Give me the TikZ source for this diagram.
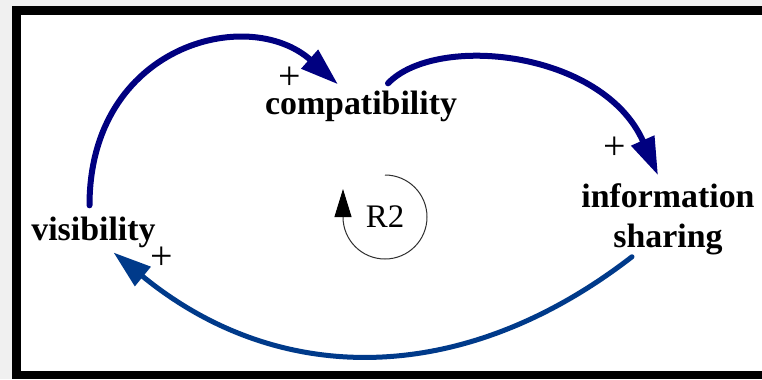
\documentclass[tikz,border=0pt]{standalone}
\usepackage{fontspec}
\setmainfont{Liberation Serif}
\usetikzlibrary{arrows.meta,positioning}
\definecolor{linknavy}{HTML}{000080}
\definecolor{linkblue}{HTML}{003A8A}
\definecolor{framegray}{HTML}{F0F0F0}
\definecolor{loopgray}{HTML}{303030}
\tikzset{varbox/.style={font=\fontsize{34}{40}\selectfont\bfseries,align=center,inner sep=11pt}, polarity/.style={font=\fontsize{40}{40}\selectfont,inner sep=0pt}, loopmark/.style={font=\fontsize{33}{33}\selectfont,inner sep=0pt}, linkarrow/.style={line width=6bp,line cap=round,linknavy,-{Triangle[length=38bp,width=24bp]}}, backarrow/.style={linkarrow,line width=5bp,linkblue}, looparc/.style={line width=1bp,loopgray,-{Triangle[length=28bp,width=17bp,black]}}}
\begin{document}
\begin{tikzpicture}[x=1bp,y=-1bp]
\useasboundingbox (0,0) rectangle (762,379);
\fill[framegray] (0,0) rectangle (762,379);
\fill[black] (12,6) rectangle (762,379);
\fill[white] (21,15) rectangle (762,371);
\node[varbox,anchor=base] (comp) at (361,114) {compatibility};
\node[varbox] (info) at (668,219) {information\\sharing};
\node[varbox,anchor=base] (vis) at (93.5,240) {visibility};
\node[loopmark] (r2) at (385,217) {R2};
\node[polarity] (p1) at (290,78) {+};
\node[polarity] (p2) at (615,148) {+};
\node[polarity] (p3) at (162,258) {+};
\draw[linkarrow] ([xshift=-4bp]vis.north) .. controls +(0,-160) and +(-90,-80) .. ([xshift=-23bp,yshift=-5bp]comp.north);
\draw[linkarrow] ([xshift=27bp,yshift=-4bp]comp.north) .. controls +(48,-50) and +(-55,-125) .. ([xshift=-10bp,yshift=-3bp]info.north);
\draw[backarrow] ([xshift=-36bp,yshift=9bp]info.south) .. controls +(-168,130) and +(166,136) .. ([xshift=20bp,yshift=6bp]vis.south);
\draw[looparc] ([yshift=42bp]r2.center) arc[start angle=-90,end angle=180,radius=42] -- ++(0,-28);
\end{tikzpicture}
\end{document}
